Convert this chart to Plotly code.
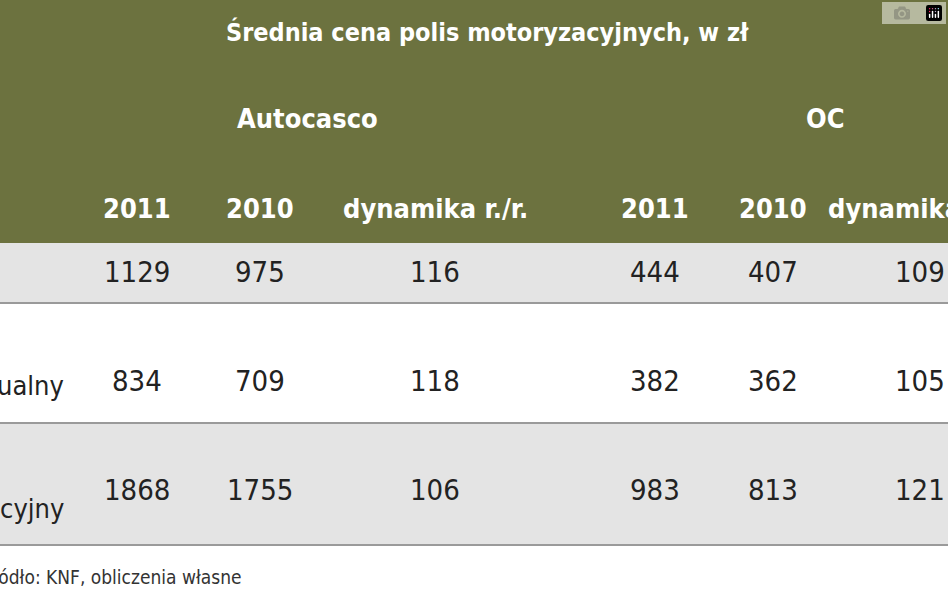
import plotly.graph_objects as go

title = "Średnia cena polis motoryzacyjnych, w zł"
groups = ["Autocasco", "OC"]
col_labels = ["2011", "2010", "dynamika r./r.", "2011", "2010", "dynamika r./r."]
row_labels = ["", "indywidualny", "korporacyjny"]
values = [
    [1129, 975, 116, 444, 407, 109],
    [834, 709, 118, 382, 362, 105],
    [1868, 1755, 106, 983, 813, 121],
]
source = "Źródło: KNF, obliczenia własne"

W, H = 948, 593
col_x = [137, 260, 435, 655, 773, 920]
group_x = [307, 825]
row_top = [243, 303, 423]
row_bot = [303, 423, 545]
val_y = [272, 381, 490]
lab_y = [272, 385, 508]
font = "DejaVu Sans Condensed, Liberation Sans Narrow, Roboto"

fig = go.Figure()
shapes = [dict(type="rect", x0=0, x1=W, y0=0, y1=243, fillcolor="#6c723f", line_width=0)]
for i in range(3):
    if i != 1:
        shapes.append(dict(type="rect", x0=0, x1=W, y0=row_top[i], y1=row_bot[i], fillcolor="#e4e4e4", line_width=0))
for y in [303, 423, 545]:
    shapes.append(dict(type="line", x0=0, x1=W, y0=y, y1=y, line=dict(color="#9a9a9a", width=2)))

ann = []
def A(x, y, t, size, color, bold=False, xanchor="center"):
    ann.append(dict(x=x / W, y=1 - y / H, text=f"<b>{t}</b>" if bold else t, showarrow=False,
                    xref="paper", yref="paper", xanchor=xanchor, yanchor="middle",
                    font=dict(family=font, size=size, color=color)))

A(487, 32, title, 25, "white", True)
for gx, g in zip(group_x, groups):
    A(gx, 118, g, 27, "white", True)
for cx, c in zip(col_x, col_labels):
    A(cx, 208, c, 27, "white", True)
for r in range(3):
    if row_labels[r]:
        A(66, lab_y[r], row_labels[r], 27, "#222", False, "right")
    for cx, v in zip(col_x, values[r]):
        A(cx, val_y[r], str(v), 29, "#222")
A(-22, 577, source, 19, "#333", False, "left")

fig.update_layout(width=W, height=H, margin=dict(l=0, r=0, t=0, b=0), plot_bgcolor="white",
                  paper_bgcolor="white", shapes=shapes, annotations=ann,
                  xaxis=dict(range=[0, W], visible=False, fixedrange=True),
                  yaxis=dict(range=[H, 0], visible=False, fixedrange=True), showlegend=False)
fig.write_html("out.html")
with open("out.html", encoding="utf-8") as f:
    html = f.read()
html = html.replace("<body>", '<body style="margin:0;overflow:hidden">', 1)
with open("out.html", "w", encoding="utf-8") as f:
    f.write(html)
